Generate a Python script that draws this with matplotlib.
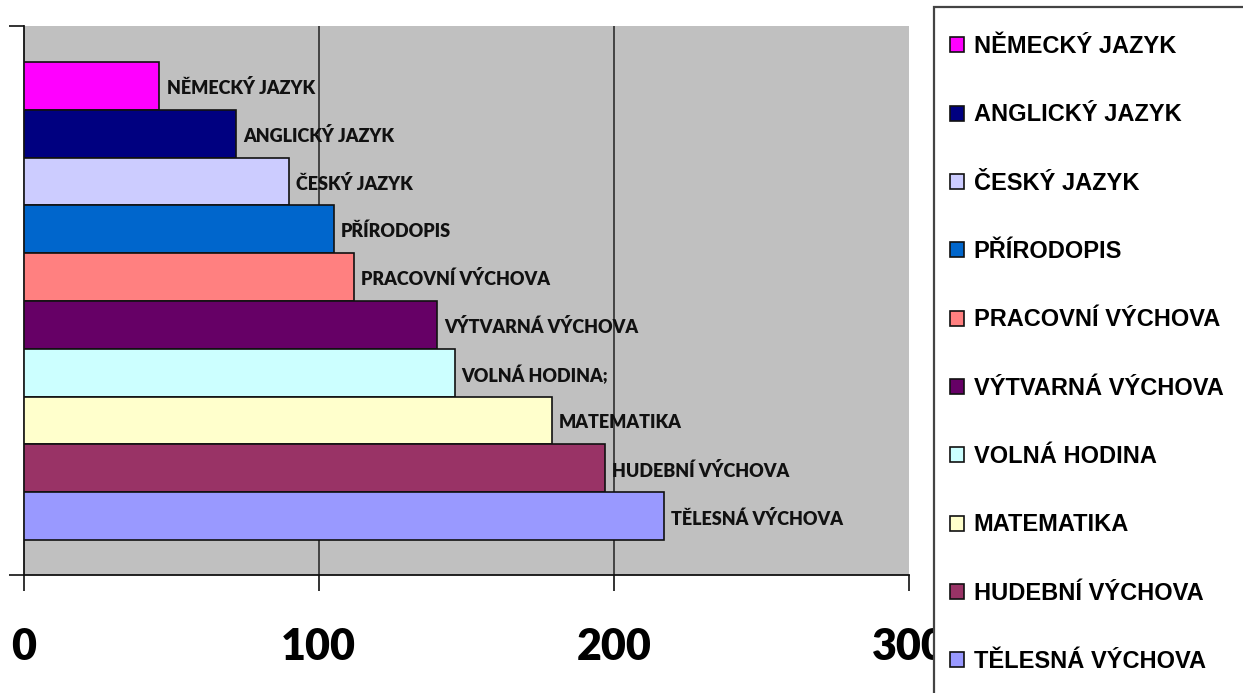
import matplotlib
matplotlib.use("Agg")
import matplotlib.pyplot as plt
from matplotlib.patches import Rectangle

# subjects from top to bottom
predmety = ["NĚMECKÝ JAZYK", "ANGLICKÝ JAZYK", "ČESKÝ JAZYK", "PŘÍRODOPIS",
            "PRACOVNÍ VÝCHOVA", "VÝTVARNÁ VÝCHOVA", "VOLNÁ HODINA",
            "MATEMATIKA", "HUDEBNÍ VÝCHOVA", "TĚLESNÁ VÝCHOVA"]
popisky = ["NĚMECKÝ JAZYK", "ANGLICKÝ JAZYK", "ČESKÝ JAZYK", "PŘÍRODOPIS",
           "PRACOVNÍ VÝCHOVA", "VÝTVARNÁ VÝCHOVA", "VOLNÁ HODINA;",
           "MATEMATIKA", "HUDEBNÍ VÝCHOVA", "TĚLESNÁ VÝCHOVA"]
hodnoty = [46, 72, 90, 105, 112, 140, 146, 179, 197, 217]
barvy = ["#FF00FF", "#000080", "#CCCCFF", "#0066CC", "#FF8080",
         "#660066", "#CCFFFF", "#FFFFCC", "#993366", "#9999FF"]
xticks = [0, 100, 200, 300]

fig = plt.figure(figsize=(12.43, 6.93), dpi=100)
ax = fig.add_axes([23.7 / 1243, 118 / 693, (909 - 23.7) / 1243, (575 - 26) / 693])
ax.set_facecolor("#C0C0C0")

handles = []
for i, (p, v, c) in enumerate(zip(predmety, hodnoty, barvy)):
    b = ax.barh(i, v, height=1.0, color=c, edgecolor="#111111", linewidth=1.2,
                label=p, zorder=3)
    handles.append(b[0])
    ax.text(v + 2.4, i + 0.05, popisky[i], va="center", ha="left",
            fontsize=13, fontweight="heavy", family="Lato", color="#111111",
            zorder=4)

ax.set_xlim(0, 300)
ax.set_ylim(10.23, -1.25)
ax.set_xticks(xticks)
ax.set_xticklabels([str(t) for t in xticks], fontsize=31, fontweight="heavy",
                   family="Lato")
ax.set_yticks([-1.25, 10.23])
ax.set_yticklabels(["", ""])
ax.tick_params(axis="x", length=11.5, width=1.2, color="#111111", pad=26)
ax.tick_params(axis="y", length=11, width=1.2, color="#111111")

ax.grid(axis="x", color="#222222", linewidth=1.1, zorder=1)
ax.set_axisbelow(True)
gl = ax.get_xgridlines()
gl[0].set_visible(False)
gl[-1].set_visible(False)

for s in ["top", "right"]:
    ax.spines[s].set_visible(False)
for s in ["left", "bottom"]:
    ax.spines[s].set_color("#111111")
    ax.spines[s].set_linewidth(1.3)

# legend box (runs off the right and bottom edge)
fig.patches.append(Rectangle((934 / 1243, -0.1), 0.5, (693 - 7) / 693 + 0.1,
                             transform=fig.transFigure, facecolor="white",
                             edgecolor="#444444", linewidth=1.6, zorder=2))
leg = fig.legend(handles, predmety, loc="upper left",
                 bbox_to_anchor=(950 / 1243, 1 - 35 / 693), frameon=False,
                 prop={"family": "Liberation Sans", "weight": "bold", "size": 17},
                 handlelength=0.6, handleheight=0.6, handletextpad=0.4,
                 labelspacing=1.92, borderpad=0, borderaxespad=0)
leg.set_zorder(5)

plt.savefig("out.png", dpi=100)
